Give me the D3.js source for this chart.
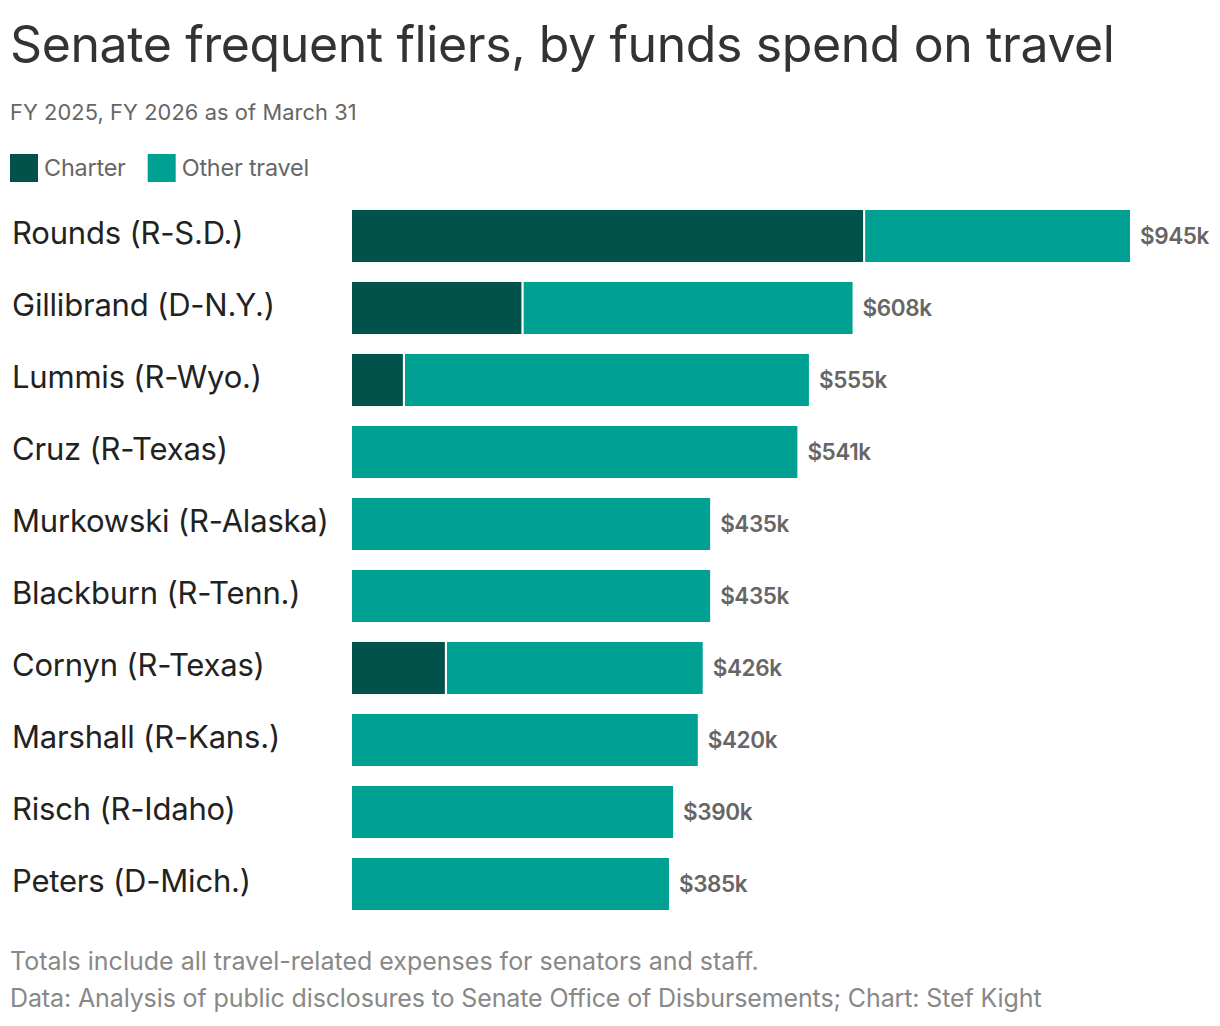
<!DOCTYPE html>
<html><head><meta charset="utf-8">
<script src="https://cdn.jsdelivr.net/npm/d3@7"></script>
<style>
body{margin:0;background:#fff;}
svg text{font-family:Inter,"Noto Sans",sans-serif;}
</style></head>
<body><svg id="c" width="1220" height="1026"></svg>
<script>
const senators = ["Rounds (R-S.D.)","Gillibrand (D-N.Y.)","Lummis (R-Wyo.)","Cruz (R-Texas)","Murkowski (R-Alaska)","Blackburn (R-Tenn.)","Cornyn (R-Texas)","Marshall (R-Kans.)","Risch (R-Idaho)","Peters (D-Mich.)"];
const totals = [945,608,555,541,435,435,426,420,390,385];
const charter = [622,207,63,0,0,0,114,0,0,0];
const seriesNames = ["Charter","Other travel"];
const colors = ["#00524a","#00a193"];

const svg = d3.select("#c");
const x = d3.scaleLinear().domain([0,945]).range([352,1130]);
const y = d3.scaleBand().domain(senators).range([210,930]).paddingInner(20/72).paddingOuter(0).align(0);
const bh = 52;

svg.append("text").attr("x",10).attr("y",62).attr("font-size",50).attr("fill","#333").attr("letter-spacing",-0.4).text("Senate frequent fliers, by funds spend on travel");
svg.append("text").attr("x",10).attr("y",120).attr("font-size",21.8).attr("fill","#666").attr("letter-spacing",0.1).text("FY 2025, FY 2026 as of March 31");

// legend
const lg = svg.append("g");
let lx = 10;
seriesNames.forEach((n,i)=>{
  lg.append("rect").attr("x",lx).attr("y",154).attr("width",28).attr("height",28).attr("fill",colors[i]);
  const t = lg.append("text").attr("x",lx+34).attr("y",176).attr("font-size",23.4).attr("fill","#666").attr("letter-spacing",-0.2).text(n);
  lx += 34 + t.node().getComputedTextLength() + 22;
});

senators.forEach((s,i)=>{
  const yy = 210 + i*72;
  const g = svg.append("g");
  g.append("text").attr("x",12).attr("y",yy+bh/2+8).attr("font-size",31).attr("fill","#222").attr("letter-spacing",-0.2).text(s);
  const c = charter[i];
  if(c>0){
    g.append("rect").attr("x",x(0)).attr("y",yy).attr("width",x(c)-x(0)).attr("height",bh).attr("fill",colors[0]);
    g.append("rect").attr("x",x(c)+1).attr("y",yy).attr("width",x(totals[i])-x(c)-1).attr("height",bh).attr("fill",colors[1]);
    g.append("rect").attr("x",x(c)-1).attr("y",yy).attr("width",2).attr("height",bh).attr("fill","#fff");
  } else {
    g.append("rect").attr("x",x(0)).attr("y",yy).attr("width",x(totals[i])-x(0)).attr("height",bh).attr("fill",colors[1]);
  }
  g.append("text").attr("x",x(totals[i])+10).attr("y",yy+bh/2+8).attr("font-size",22.5).attr("font-weight",600).attr("fill","#666").attr("letter-spacing",-0.4).text("$"+totals[i]+"k");
});

svg.append("text").attr("x",10).attr("y",970).attr("font-size",25).attr("fill","#888").attr("letter-spacing",0).text("Totals include all travel-related expenses for senators and staff.");
svg.append("text").attr("x",10).attr("y",1007).attr("font-size",25).attr("fill","#888").attr("letter-spacing",-0.12).text("Data: Analysis of public disclosures to Senate Office of Disbursements; Chart: Stef Kight");
</script></body></html>
